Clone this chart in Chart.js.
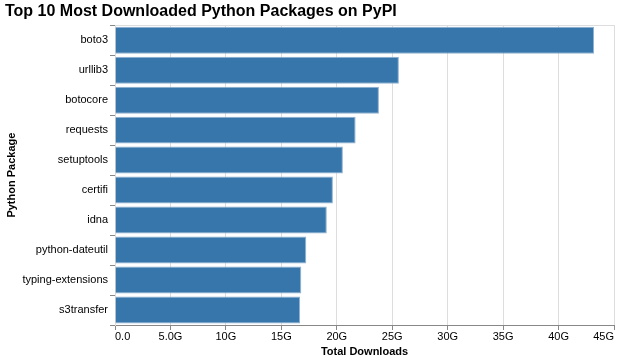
<!DOCTYPE html>
<html><head><meta charset="utf-8">
<script src="https://cdn.jsdelivr.net/npm/chart.js@4.4.1/dist/chart.umd.min.js"></script>
<style>html,body{margin:0;padding:0;background:#fff;}canvas{display:block;}</style>
</head><body>
<canvas id="c" width="621" height="363"></canvas>
<script>
const packages = ["boto3","urllib3","botocore","requests","setuptools","certifi","idna","python-dateutil","typing-extensions","s3transfer"];
const downloadsG = [43.2, 25.6, 23.8, 21.7, 20.55, 19.65, 19.1, 17.25, 16.8, 16.7];
const xTickValues = [0,5,10,15,20,25,30,35,40,45];
const xTickLabels = ["0.0","5.0G","10G","15G","20G","25G","30G","35G","40G","45G"];

const FONT = "'Liberation Sans', Arial, Helvetica, sans-serif";
Chart.defaults.font.family = FONT;
Chart.defaults.color = '#000';

const frame = {
  id: 'frame',
  beforeDatasetsDraw(chart) {
    const {ctx, chartArea: a} = chart;
    ctx.save();
    ctx.strokeStyle = '#ddd';
    ctx.lineWidth = 1;
    const y = Math.round(a.top) + 0.5;
    ctx.beginPath();
    ctx.moveTo(a.left, y);
    ctx.lineTo(a.right + 0.5, y);
    ctx.stroke();
    ctx.restore();
  },
  afterDraw(chart) {
    const {ctx, chartArea: a, scales: {x}} = chart;
    ctx.save();
    ctx.font = "11px " + FONT;
    ctx.fillStyle = '#000';
    ctx.textBaseline = 'top';
    xTickValues.forEach((v, i) => {
      const px = x.getPixelForValue(v);
      ctx.textAlign = i === 0 ? 'left' : (i === xTickValues.length - 1 ? 'right' : 'center');
      ctx.fillText(xTickLabels[i], px, a.bottom + 6);
    });
    ctx.restore();
  }
};

new Chart(document.getElementById('c'), {
  type: 'bar',
  data: {
    labels: packages,
    datasets: [{
      data: downloadsG,
      backgroundColor: '#3776ab',
      borderColor: '#8fb1d2',
      borderWidth: 1,
      barPercentage: 0.9,
      categoryPercentage: 1.0
    }]
  },
  options: {
    indexAxis: 'y',
    responsive: false,
    animation: false,
    devicePixelRatio: 1,
    layout: { padding: { left: 5, right: 7, top: 0, bottom: 0 } },
    plugins: {
      legend: { display: false },
      tooltip: { enabled: false },
      title: {
        display: true,
        text: 'Top 10 Most Downloaded Python Packages on PyPI',
        align: 'start',
        color: '#000',
        font: { size: 16, weight: 'bold', family: FONT },
        padding: { top: 2, bottom: 4 }
      }
    },
    scales: {
      x: {
        type: 'linear',
        min: 0, max: 45,
        ticks: { stepSize: 5, display: false },
        grid: { color: '#ddd', tickColor: '#888', tickLength: 5, drawTicks: true },
        border: { color: '#888', width: 1 },
        title: {
          display: true, text: 'Total Downloads', color: '#000',
          font: { size: 11, weight: 'bold', family: FONT },
          padding: { top: 0, bottom: 4 }
        },
        afterFit(s) { s.height = 38; }
      },
      y: {
        type: 'category',
        offset: true,
        ticks: { color: '#000', font: { size: 11, family: FONT }, padding: 2 },
        grid: { display: true, drawOnChartArea: false, tickLength: 5, tickColor: '#888' },
        border: { color: '#ddd', width: 1 },
        title: {
          display: true, text: 'Python Package', color: '#000',
          font: { size: 11, weight: 'bold', family: FONT },
          padding: { top: 0, bottom: 0 }
        },
        afterFit(s) { s.width = 110; }
      }
    }
  },
  plugins: [frame]
});
</script>
</body></html>
